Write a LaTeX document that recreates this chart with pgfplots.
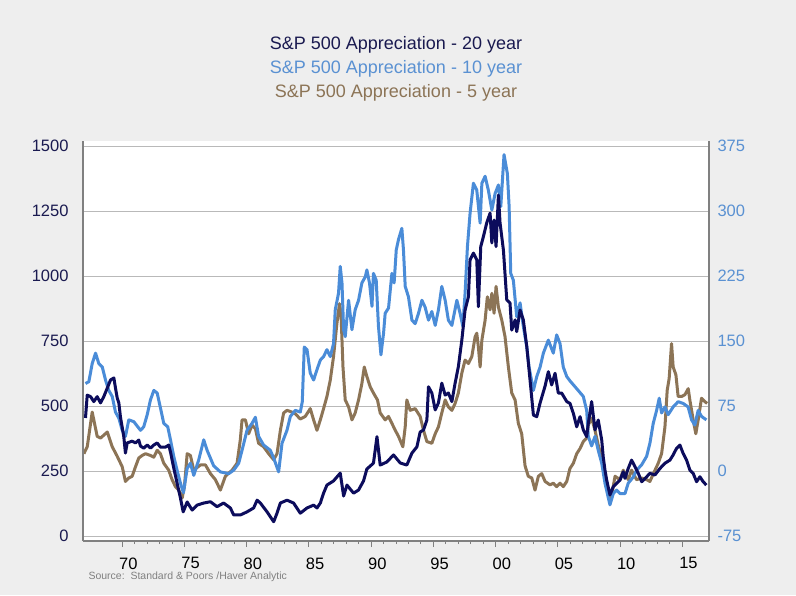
\documentclass[border=0pt]{standalone}
\usepackage{fontspec}
\setmainfont{Liberation Sans}
\usepackage{pgfplots}
\pgfplotsset{compat=1.18}
\definecolor{bg}{RGB}{238,238,238}
\definecolor{navy}{RGB}{12,12,92}
\definecolor{lblue}{RGB}{74,140,216}
\definecolor{brownc}{RGB}{140,116,86}
\definecolor{navytxt}{RGB}{26,26,80}
\definecolor{bluetxt}{RGB}{90,145,210}
\definecolor{axgray}{RGB}{128,128,128}
\definecolor{gridc}{RGB}{185,185,185}
\begin{document}
\begin{tikzpicture}[x=1pt,y=1pt]
\path[use as bounding box] (0,0) rectangle (796,595);
\fill[bg] (0,0) rectangle (796,595);
\pgfplotsset{
 common/.style={
  at={(83pt,54pt)}, anchor=south west, scale only axis, width=626pt, height=400pt,
  xmin=1966.85, xmax=2017.15,
  tick label style={font=\fontsize{16.5}{19}\selectfont},
  /pgf/number format/assume math mode=true,
  /pgf/number format/1000 sep={},
  axis line style={axgray, line width=1.6pt, -},
 }
}
\begin{axis}[common,
  axis x line=none, axis y line*=right,
  ymin=-80.7, ymax=380.7,
  ytick={-75,0,75,150,225,300,375},
  ymajorgrids, grid style={gridc, line width=0.8pt},
  axis background/.style={fill=white},
  ytick style={draw=none},
  yticklabel style={bluetxt, xshift=5pt},
]
\addplot[brownc, line width=3pt, line join=round] coordinates {
(1966.92,20)(1967.19,28)(1967.59,68)(1967.99,40)(1968.26,38)(1968.80,45)(1969.20,28)(1969.60,17)(1970.00,5)(1970.26,-12)(1970.53,-8)(1970.80,-6)(1971.07,5)(1971.33,15)(1971.61,18)(1971.87,20)(1972.27,18)(1972.54,16)(1972.81,24)(1973.07,20)(1973.34,9)(1973.74,1)(1974.01,-10)(1974.28,-18)(1974.54,-22)(1974.82,-31)(1975.00,-18)(1975.22,20)(1975.48,18)(1975.75,1)(1976.28,7)(1976.69,7)(1977.09,-3)(1977.49,-10)(1977.89,-22)(1978.29,-6)(1978.83,1)(1979.23,9)(1979.49,36)(1979.63,59)(1979.90,59)(1980.16,43)(1980.43,53)(1980.70,49)(1980.96,32)(1981.36,28)(1981.77,20)(1982.17,13)(1982.44,20)(1982.71,47)(1982.97,67)(1983.24,70)(1983.64,68)(1983.91,66)(1984.31,60)(1984.71,63)(1985.11,72)(1985.38,59)(1985.65,47)(1985.92,59)(1986.18,72)(1986.45,86)(1986.72,105)(1986.98,132)(1987.25,170)(1987.46,193)(1987.58,182)(1987.74,120)(1987.92,82)(1988.19,74)(1988.46,59)(1988.72,67)(1988.99,82)(1989.26,101)(1989.45,120)(1989.66,109)(1989.93,97)(1990.19,90)(1990.51,82)(1990.73,67)(1991.13,59)(1991.40,63)(1991.67,55)(1991.94,47)(1992.20,40)(1992.55,28)(1992.74,51)(1992.87,82)(1993.14,70)(1993.54,72)(1993.94,63)(1994.21,47)(1994.48,34)(1994.88,32)(1995.15,43)(1995.41,51)(1995.68,67)(1995.95,82)(1996.21,74)(1996.49,70)(1996.75,78)(1997.01,90)(1997.29,113)(1997.55,128)(1997.82,124)(1998.09,132)(1998.36,155)(1998.49,159)(1998.62,143)(1998.76,120)(1998.90,151)(1999.16,174)(1999.34,201)(1999.56,186)(1999.70,205)(1999.88,182)(2000.04,213)(2000.23,189)(2000.50,174)(2000.76,155)(2001.03,120)(2001.30,90)(2001.57,82)(2001.83,55)(2002.10,43)(2002.37,6)(2002.63,-6)(2002.91,-8)(2003.17,-22)(2003.44,-6)(2003.71,-3)(2003.98,-12)(2004.38,-16)(2004.64,-14)(2004.91,-18)(2005.18,-14)(2005.44,-18)(2005.72,-12)(2005.98,3)(2006.25,9)(2006.52,20)(2006.79,26)(2007.05,34)(2007.32,38)(2007.45,53)(2007.72,61)(2007.99,47)(2008.25,30)(2008.53,15)(2008.79,-4)(2009.06,-24)(2009.27,-33)(2009.60,-6)(2010.00,-10)(2010.26,1)(2010.66,-10)(2010.93,1)(2011.33,-10)(2011.74,-8)(2012.14,-10)(2012.40,-12)(2012.81,1)(2013.07,9)(2013.34,20)(2013.61,51)(2013.79,93)(2013.95,107)(2014.14,147)(2014.27,120)(2014.49,111)(2014.67,86)(2014.94,86)(2015.21,88)(2015.48,95)(2015.61,82)(2015.88,59)(2016.09,43)(2016.28,59)(2016.55,84)(2016.82,80)(2017.00,78)
};
\addplot[lblue, line width=3pt, line join=round] coordinates {
(1967.05,101)(1967.32,103)(1967.59,124)(1967.86,136)(1968.12,124)(1968.40,120)(1968.66,105)(1968.92,93)(1969.20,86)(1969.46,68)(1969.73,61)(1970.00,47)(1970.26,40)(1970.53,59)(1970.93,57)(1971.47,47)(1971.73,51)(1972.01,65)(1972.27,82)(1972.54,93)(1972.81,90)(1973.07,73)(1973.34,55)(1973.66,51)(1973.88,36)(1974.14,17)(1974.41,1)(1974.68,-14)(1974.92,-25)(1975.22,3)(1975.48,9)(1975.75,-5)(1976.15,13)(1976.55,36)(1976.82,24)(1977.35,6)(1977.89,-1)(1978.56,-3)(1978.96,1)(1979.36,9)(1979.63,24)(1980.03,47)(1980.43,55)(1980.70,62)(1980.96,40)(1981.36,30)(1981.90,24)(1982.17,15)(1982.57,-1)(1982.84,32)(1983.24,47)(1983.51,63)(1983.91,70)(1984.31,68)(1984.47,80)(1984.63,143)(1984.85,140)(1985.11,113)(1985.38,105)(1985.65,117)(1985.92,128)(1986.18,132)(1986.45,140)(1986.72,132)(1986.98,147)(1987.12,186)(1987.38,205)(1987.52,236)(1987.66,217)(1987.79,163)(1987.92,155)(1988.19,197)(1988.46,163)(1988.72,186)(1988.99,197)(1989.26,217)(1989.53,224)(1989.66,232)(1989.87,217)(1990.07,190)(1990.19,228)(1990.41,220)(1990.59,167)(1990.79,134)(1991.00,159)(1991.13,182)(1991.40,188)(1991.67,228)(1991.85,217)(1992.02,255)(1992.20,267)(1992.47,280)(1992.60,255)(1992.74,213)(1993.00,201)(1993.28,174)(1993.54,170)(1993.81,182)(1994.08,197)(1994.34,189)(1994.61,174)(1994.88,184)(1995.15,168)(1995.41,186)(1995.68,213)(1995.95,197)(1996.21,174)(1996.49,168)(1996.89,197)(1997.15,182)(1997.37,167)(1997.55,205)(1997.74,259)(1997.95,297)(1998.22,332)(1998.49,324)(1998.76,286)(1998.90,332)(1999.16,340)(1999.42,324)(1999.70,301)(1999.96,320)(2000.23,330)(2000.42,305)(2000.68,365)(2000.95,343)(2001.09,305)(2001.22,228)(2001.43,220)(2001.70,178)(2001.97,194)(2002.23,167)(2002.51,143)(2002.69,120)(2003.04,93)(2003.31,109)(2003.58,120)(2003.84,136)(2004.24,151)(2004.64,136)(2004.91,157)(2005.18,147)(2005.44,120)(2005.72,109)(2005.98,104)(2006.52,95)(2007.05,86)(2007.32,70)(2007.45,40)(2007.72,29)(2007.99,40)(2008.25,24)(2008.53,9)(2008.79,-14)(2009.06,-31)(2009.19,-39)(2009.46,-26)(2009.73,-22)(2010.00,-26)(2010.40,-26)(2010.66,-14)(2011.06,-7)(2011.33,1)(2011.73,7)(2012.14,17)(2012.40,32)(2012.67,55)(2012.94,70)(2013.15,84)(2013.34,67)(2013.61,74)(2013.87,65)(2014.27,74)(2014.67,80)(2015.07,78)(2015.47,74)(2015.75,59)(2016.01,53)(2016.28,70)(2016.55,63)(2016.94,59)
};
\end{axis}
\begin{axis}[common,
  axis x line*=bottom, axis y line*=left,
  ymin=-19, ymax=1519, ytick={0,250,...,1500},
  xtick={1970,1975,...,2015}, xticklabels={70,75,80,85,90,95,00,05,10,15},
  minor x tick num=4,
  tick align=outside,
  major tick length=6pt, minor tick length=3pt,
  xtick style={axgray, line width=0.8pt},
  ytick style={draw=none},
  yticklabel style={navytxt, xshift=-5pt},
  xticklabel style={black, xshift=6.2pt, yshift=-7pt},
]
\addplot[navy, line width=3pt, line join=round] coordinates {
(1967.05,454)(1967.19,542)(1967.46,536)(1967.72,517)(1967.99,536)(1968.26,512)(1968.52,536)(1968.80,569)(1969.06,600)(1969.33,608)(1969.46,569)(1969.60,531)(1969.73,512)(1969.86,458)(1970.13,381)(1970.26,319)(1970.40,358)(1970.80,365)(1971.07,358)(1971.33,369)(1971.47,346)(1971.73,338)(1972.01,350)(1972.27,338)(1972.54,350)(1972.81,358)(1973.07,342)(1973.48,342)(1973.74,350)(1973.88,323)(1974.14,262)(1974.41,204)(1974.68,146)(1974.90,93)(1975.22,131)(1975.62,100)(1976.02,119)(1976.55,127)(1977.09,132)(1977.62,113)(1978.15,127)(1978.69,108)(1978.96,81)(1979.49,81)(1980.03,93)(1980.56,108)(1980.84,138)(1981.10,127)(1981.64,93)(1982.17,55)(1982.44,88)(1982.71,127)(1983.24,138)(1983.77,127)(1984.31,88)(1984.85,108)(1985.38,119)(1985.65,108)(1985.92,127)(1986.18,165)(1986.45,196)(1986.98,212)(1987.52,242)(1987.79,154)(1988.06,196)(1988.59,165)(1988.99,177)(1989.39,212)(1989.66,258)(1989.93,269)(1990.19,281)(1990.47,382)(1990.73,273)(1991.27,285)(1991.80,312)(1992.34,281)(1992.87,273)(1993.28,319)(1993.68,343)(1993.94,400)(1994.21,408)(1994.48,446)(1994.61,574)(1994.88,550)(1995.15,485)(1995.41,512)(1995.68,588)(1995.95,542)(1996.21,550)(1996.49,517)(1996.75,588)(1997.01,651)(1997.29,754)(1997.55,869)(1997.82,920)(1997.95,1062)(1998.22,1088)(1998.49,1062)(1998.62,882)(1998.81,1113)(1999.02,1151)(1999.29,1204)(1999.56,1242)(1999.70,1127)(1999.88,1215)(2000.04,1113)(2000.23,1311)(2000.36,1204)(2000.63,1100)(2000.90,908)(2001.16,896)(2001.30,792)(2001.57,831)(2001.70,786)(2001.97,869)(2002.23,831)(2002.51,728)(2002.77,600)(2003.04,465)(2003.31,459)(2003.58,512)(2003.98,577)(2004.24,632)(2004.51,581)(2004.78,626)(2005.04,550)(2005.31,550)(2005.72,517)(2005.98,510)(2006.25,472)(2006.52,420)(2006.79,459)(2007.05,408)(2007.32,382)(2007.45,433)(2007.72,517)(2007.99,408)(2008.25,446)(2008.53,369)(2008.65,305)(2008.79,254)(2008.93,215)(2009.19,158)(2009.46,190)(2009.73,203)(2010.00,215)(2010.26,247)(2010.40,222)(2010.66,260)(2010.93,292)(2011.20,267)(2011.47,241)(2011.74,209)(2012.14,228)(2012.40,241)(2012.81,235)(2013.21,260)(2013.61,280)(2014.01,292)(2014.27,312)(2014.54,337)(2014.81,350)(2015.07,318)(2015.35,292)(2015.61,254)(2015.88,241)(2016.15,209)(2016.42,228)(2016.68,209)(2016.94,196)
};
\end{axis}
\node[navytxt, font=\fontsize{18}{21}\selectfont] at (396,550) {S\&P 500 Appreciation - 20 year};
\node[bluetxt, font=\fontsize{18}{21}\selectfont] at (396,526) {S\&P 500 Appreciation - 10 year};
\node[brownc, font=\fontsize{18}{21}\selectfont] at (396,502) {S\&P 500 Appreciation - 5 year};
\node[anchor=west, axgray, font=\fontsize{10.5}{12}\selectfont] at (85,18) {Source:\ \ Standard \& Poors /Haver Analytic};
\end{tikzpicture}
\end{document}
